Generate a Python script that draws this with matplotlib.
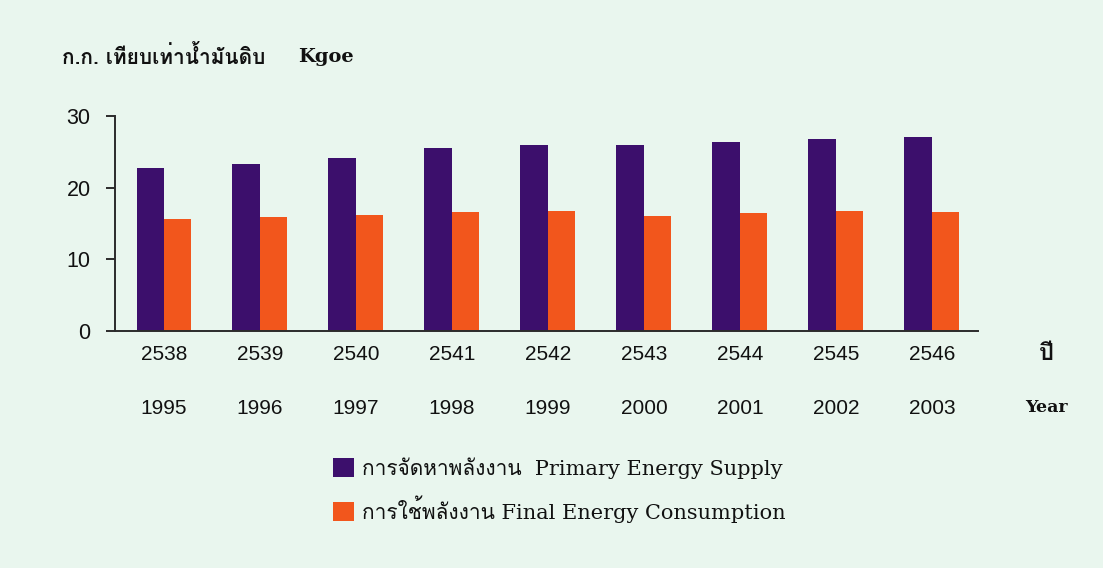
import matplotlib
matplotlib.use("Agg")
import matplotlib.pyplot as plt
from matplotlib import font_manager
from matplotlib.ft2font import FT2Font
from matplotlib.patches import Patch
import matplotlib.transforms as mtransforms
import numpy as np

# ---- data ----
years_be = ["2538", "2539", "2540", "2541", "2542", "2543", "2544", "2545", "2546"]
years_ce = ["1995", "1996", "1997", "1998", "1999", "2000", "2001", "2002", "2003"]
primary_supply = [22.8, 23.3, 24.2, 25.5, 25.9, 25.9, 26.4, 26.8, 27.1]
final_consumption = [15.6, 15.9, 16.2, 16.6, 16.7, 16.1, 16.4, 16.7, 16.6]
y_ticks = [0, 10, 20, 30]
title_thai = "ก.ก. เทียบเท่าน้ำมันดิบ"
title_unit = "Kgoe"
legend_labels = ["การจัดหาพลังงาน  Primary Energy Supply",
                 "การใช้พลังงาน Final Energy Consumption"]

# ---- find a font with Thai glyphs ----
def find_font(ch):
    names = []
    for f in font_manager.fontManager.ttflist:
        try:
            if ord(ch) in FT2Font(f.fname).get_charmap():
                if f.name not in names:
                    names.append(f.name)
        except Exception:
            pass
    return names

thai_fonts = find_font("ก")
thai = thai_fonts[0] if thai_fonts else "DejaVu Sans"
sans = ["Liberation Sans", thai, "DejaVu Sans"]
serif = ["DejaVu Serif", thai]

BG = "#e9f6ee"
PURPLE = "#3c0f6c"
ORANGE = "#f2561c"
AX = "#2b2b2b"
TXT = "#111111"

fig = plt.figure(figsize=(11.03, 5.68), dpi=100, facecolor=BG)
ax = fig.add_axes([115 / 1103, 1 - 331 / 568, (978 - 115) / 1103, (331 - 116) / 568])
ax.set_facecolor(BG)

x = np.arange(len(years_be))
w = 0.286
ax.bar(x, primary_supply, width=-w, align="edge", color=PURPLE)
ax.bar(x, final_consumption, width=w, align="edge", color=ORANGE)

ax.set_xlim(-0.51, 8.48)
ax.set_ylim(0, 30)
ax.set_yticks(y_ticks)
ax.set_xticks([])
for s in ["top", "right"]:
    ax.spines[s].set_visible(False)
for s in ["left", "bottom"]:
    ax.spines[s].set_color(AX)
    ax.spines[s].set_linewidth(1.4)
ax.tick_params(axis="y", length=6.5, width=1.4, color=AX, pad=11,
               labelsize=15.5, labelcolor=TXT)
for lab in ax.get_yticklabels():
    lab.set_family(sans)

trans = mtransforms.blended_transform_factory(ax.transData, fig.transFigure)
for i in range(len(years_be)):
    ax.text(x[i], 1 - 355 / 568, years_be[i], transform=trans, ha="center",
            va="center", fontsize=15, family=sans, color=TXT)
    ax.text(x[i], 1 - 408 / 568, years_ce[i], transform=trans, ha="center",
            va="center", fontsize=15, family=sans, color=TXT)

fig.text(1046 / 1103, 1 - 354 / 568, "ปี", ha="center", va="center",
         fontsize=17, fontweight="bold", family=[thai], color=TXT)
fig.text(1046 / 1103, 1 - 408 / 568, "Year", ha="center", va="center",
         fontsize=12.5, fontweight="bold", family=serif, color=TXT)

fig.text(62 / 1103, 1 - 56 / 568, title_thai, ha="left", va="center",
         fontsize=15, fontweight="bold", family=[thai], color=TXT)
fig.text(298 / 1103, 1 - 57 / 568, title_unit, ha="left", va="center",
         fontsize=14, fontweight="bold", family=serif, color=TXT)

handles = [Patch(facecolor=PURPLE), Patch(facecolor=ORANGE)]
leg = fig.legend(handles, legend_labels, loc="center left",
                 bbox_to_anchor=(314 / 1103, 1 - 490 / 568),
                 frameon=False, handlelength=1.0, handleheight=1.0,
                 handletextpad=0.4, labelspacing=0.8,
                 prop={"family": serif, "size": 15})
for t in leg.get_texts():
    t.set_color(TXT)

fig.savefig("out.png", dpi=100, facecolor=BG)
